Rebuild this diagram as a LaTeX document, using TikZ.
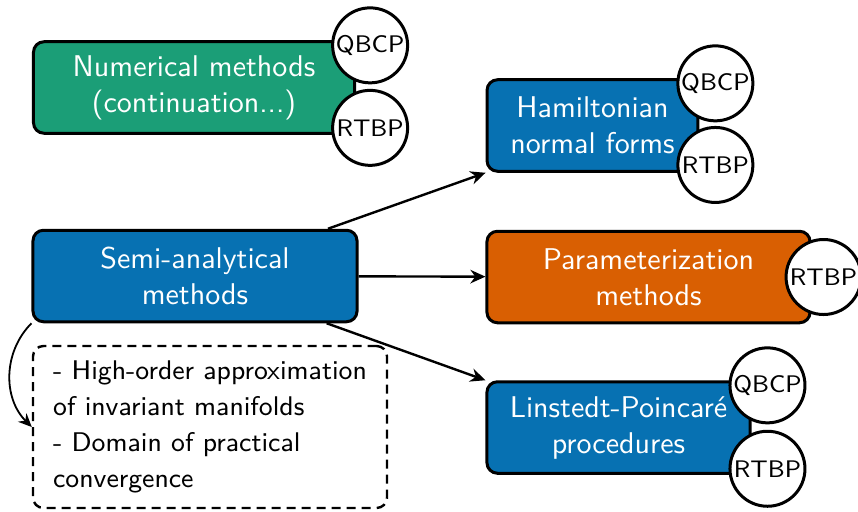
\documentclass[tikz,border=0pt]{standalone}
\usepackage{tikz}
\usetikzlibrary{arrows.meta,positioning}
\renewcommand{\familydefault}{\sfdefault}
\definecolor{mgreen}{RGB}{27,158,119}
\definecolor{mblue}{RGB}{7,113,178}
\definecolor{morange}{RGB}{217,95,2}

\begin{document}
\begin{tikzpicture}[x=.3333pt,y=-.3333pt,every node/.style={align=center},
    method/.style={draw,line width=1pt,rounded corners=3.5pt,text=white,minimum height=30.5pt,inner sep=2pt},
    model/.style={draw,circle,fill=white,line width=1pt,inner sep=0pt,minimum size=25pt,font=\footnotesize},
    link/.style={-{Stealth[length=5pt,width=4.5pt]},thick}]
        \useasboundingbox (0,0) rectangle (858,511);
        % methods
        \node[method,fill=mgreen,minimum width=107pt] (num) at (194,87.5) {Numerical methods\\(continuation...)};
        \node[method,fill=mblue,minimum width=108pt] (semi) at (195,276) {Semi-analytical\\methods};
        \node[method,fill=mblue,minimum width=70.3pt] (ham) at (592.5,125.5) {Hamiltonian\\normal forms};
        \node[method,fill=morange,minimum width=107.7pt] (param) at (648.5,277) {Parameterization\\methods};
        \node[method,fill=mblue,minimum width=87.7pt] (lin) at (618.5,427.5) {Linstedt-Poincar\'e\\procedures};
        \node[draw,dash pattern=on 3pt off 2pt,thick,rounded corners=3.5pt,minimum width=118pt,minimum height=54pt,
            align=left,font=\small] (notes) at (210,427)
            {- High-order approximation\\[1pt]of invariant manifolds\\[1pt]- Domain of practical\\[1pt]convergence};
        % models
        \node[model] (numq) at ([xshift=4.7pt,yshift=-1.7pt]num.north east) {QBCP};
        \node[model] (numr) at ([xshift=4.7pt,yshift=2.3pt]num.south east) {RTBP};
        \node[model] (hamq) at ([xshift=5.3pt,yshift=-1.7pt]ham.north east) {QBCP};
        \node[model] (hamr) at ([xshift=5.3pt,yshift=2.6pt]ham.south east) {RTBP};
        \node[model] (paramr) at ([xshift=4pt]param.east) {RTBP};
        \node[model] (linq) at ([xshift=5.3pt,yshift=-1.7pt]lin.north east) {QBCP};
        \node[model] (linr) at ([xshift=5.3pt,yshift=2pt]lin.south east) {RTBP};
        % links
        \draw[link] (semi) -- (ham.south west);
        \draw[link] (semi) -- (param);
        \draw[link] (semi) -- (lin.north west);
        \draw[-{Stealth[length=4.5pt,width=4pt]},semithick] (semi.south west) to[bend right=45] (notes.west);
\end{tikzpicture}
\end{document}
